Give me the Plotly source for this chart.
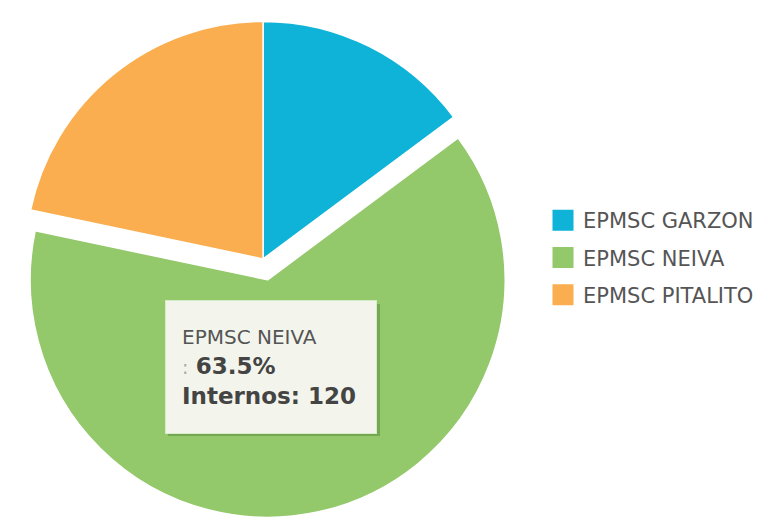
import plotly.graph_objects as go

labels = ["EPMSC GARZON", "EPMSC NEIVA", "EPMSC PITALITO"]
values = [28, 120, 41]
colors = ["#0FB3D8", "#93C86B", "#FBAE4F"]
pulls = [0, 0.09, 0]

fig = go.Figure()
fig.add_trace(go.Pie(
    labels=labels, values=values, sort=False, direction="clockwise", rotation=0,
    pull=pulls, textinfo="none", showlegend=False,
    marker=dict(colors=colors, line=dict(color="white", width=1.5)),
    domain=dict(x=[0, 0.685], y=[0.008, 1]),
    hovertemplate="%{label}<br>: %{percent}<br>Internos: %{value}<extra></extra>",
))

# legend entries (one group per slice so spacing can match)
for lab, col in zip(labels, colors):
    fig.add_trace(go.Scatter(
        x=[None], y=[None], mode="markers", name=lab, legendgroup=lab,
        marker=dict(symbol="square", size=16, color=col, line=dict(color=col, width=5)),
        hoverinfo="skip",
    ))

# tooltip for the NEIVA slice
i = 1
pct = values[i] / sum(values) * 100
fig.add_shape(type="rect", xref="paper", yref="paper",
              x0=168 / 768, x1=380 / 768, y0=1 - 436 / 522, y1=1 - 304 / 522,
              fillcolor="rgba(60,110,40,0.35)", line=dict(width=0), layer="above")
fig.add_annotation(
    xref="paper", yref="paper", x=165 / 768, y=1 - 300 / 522,
    xanchor="left", yanchor="top", align="left", showarrow=False,
    text=(f"<span style='font-size:20px;color:#555'>{labels[i]}</span><br>"
          f"<span style='color:#aaa;font-size:19px'>:</span> <b>{pct:.1f}%</b><br>"
          f"<b>Internos: {values[i]}</b>"),
    font=dict(family="DejaVu Sans", size=23, color="#444"),
    bgcolor="#F3F5EC", bordercolor="#D6EBC8", borderwidth=1, borderpad=16,
    width=178, height=100, valign="middle",
)

fig.update_layout(
    width=768, height=522, margin=dict(l=0, r=0, t=0, b=0),
    paper_bgcolor="white", plot_bgcolor="white",
    xaxis=dict(visible=False), yaxis=dict(visible=False),
    legend=dict(x=543 / 768, xanchor="left", y=1 - 200 / 522, yanchor="top",
                font=dict(family="DejaVu Sans", size=21, color="#555"),
                tracegroupgap=7, bgcolor="rgba(0,0,0,0)"),
)

fig.write_html("out.html", config={"displayModeBar": False},
               post_script="document.body.style.margin='0px';")
